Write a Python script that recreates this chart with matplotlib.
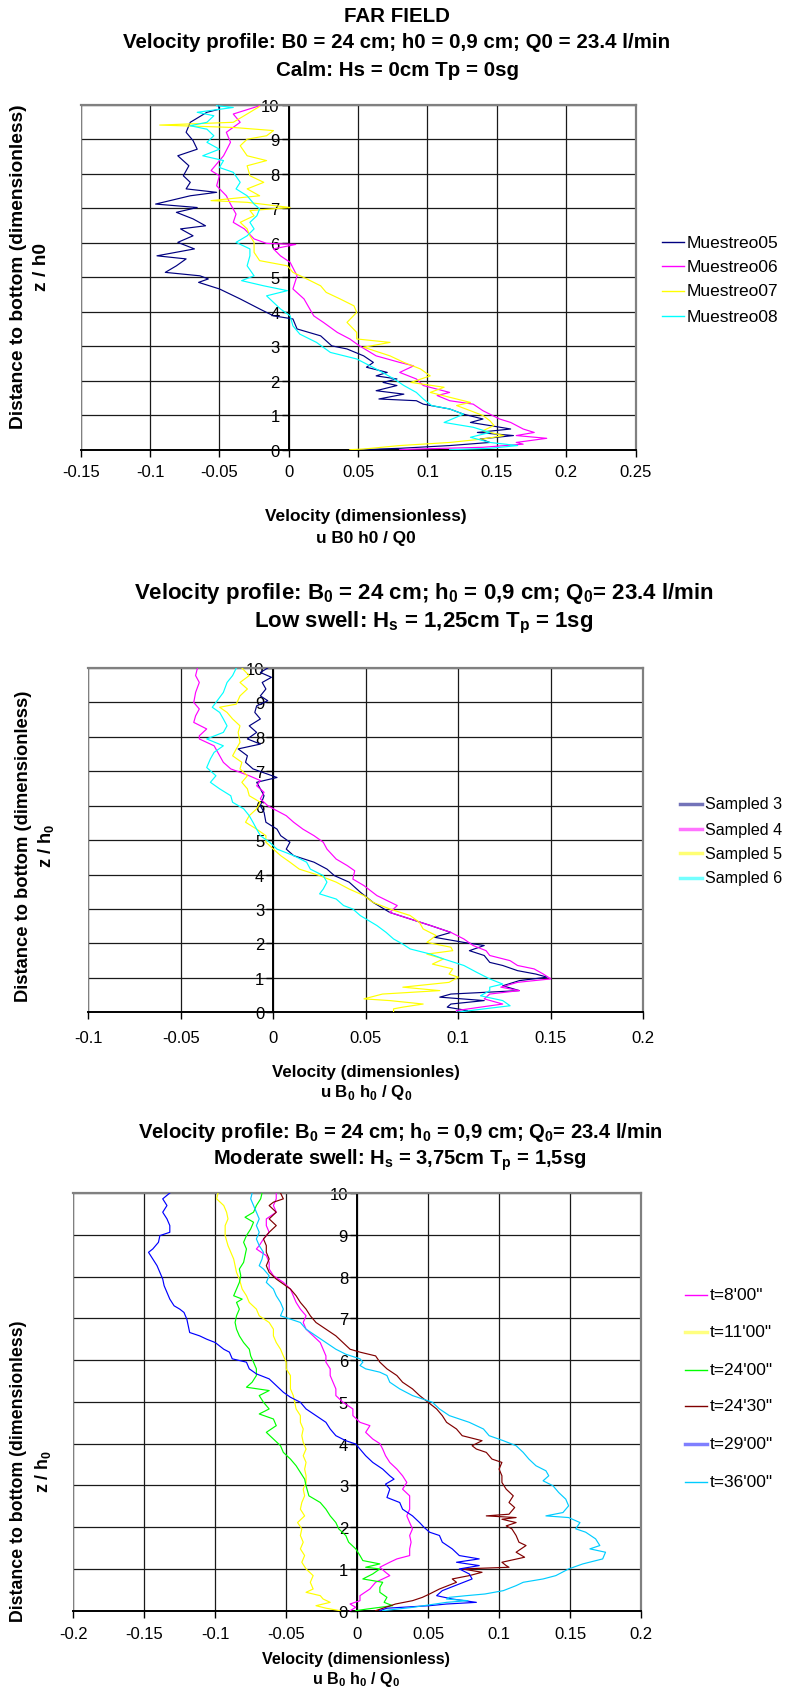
"""Velocity profiles in the far field for three wave conditions (calm, low swell, moderate swell)."""

import matplotlib.pyplot as plt
from matplotlib.lines import Line2D

plt.rcParams['font.family'] = ['Liberation Sans', 'DejaVu Sans']
plt.rcParams['mathtext.fontset'] = 'custom'
plt.rcParams['mathtext.rm'] = 'Liberation Sans'
plt.rcParams['mathtext.bf'] = 'Liberation Sans:bold'

# ---------------------------------------------------------------
# Data: (z / h0, u B0 h0 / Q0) read top to bottom for each run
# ---------------------------------------------------------------
calm_05 = [(10.0, -0.051), (9.87, -0.050), (9.78, -0.059), (9.49, -0.071), (9.20, -0.074),
           (8.96, -0.069), (8.71, -0.066), (8.52, -0.080), (8.23, -0.072), (7.94, -0.076),
           (7.75, -0.071), (7.56, -0.074), (7.46, -0.052), (7.36, -0.071), (7.12, -0.096),
           (7.02, -0.066), (6.88, -0.081), (6.69, -0.069), (6.49, -0.060), (6.40, -0.078),
           (6.20, -0.069), (6.01, -0.080), (5.82, -0.068), (5.62, -0.095), (5.53, -0.074),
           (5.33, -0.081), (5.14, -0.089), (5.04, -0.064), (4.95, -0.058), (4.85, -0.065),
           (4.66, -0.050), (4.37, -0.035), (4.08, -0.021), (3.88, -0.011), (3.79, 0.003),
           (3.50, 0.006), (3.30, 0.023), (3.01, 0.031), (2.92, 0.042), (2.72, 0.054),
           (2.53, 0.061), (2.39, 0.056), (2.24, 0.071), (2.14, 0.063), (2.05, 0.078),
           (1.95, 0.068), (1.86, 0.078), (1.71, 0.063), (1.61, 0.083), (1.47, 0.065),
           (1.42, 0.092), (1.32, 0.097), (1.18, 0.116), (1.03, 0.126), (0.89, 0.140),
           (0.79, 0.131), (0.70, 0.145), (0.60, 0.160), (0.50, 0.136), (0.41, 0.162),
           (0.31, 0.138), (0.21, 0.145), (0.12, 0.116), (0.04, 0.080), (0.00, 0.051)]
calm_06 = [(9.97, -0.021), (9.73, -0.040), (9.49, -0.035), (9.20, -0.045), (8.91, -0.042),
           (8.52, -0.047), (8.09, -0.056), (7.94, -0.050), (7.65, -0.052), (7.36, -0.045),
           (7.12, -0.042), (6.83, -0.038), (6.59, -0.040), (6.40, -0.032), (6.11, -0.025),
           (5.98, -0.016), (5.95, 0.005), (5.82, -0.011), (5.62, -0.006), (5.43, 0.001),
           (5.04, 0.006), (4.66, 0.003), (4.37, 0.011), (3.88, 0.018), (3.69, 0.025),
           (3.40, 0.035), (3.21, 0.044), (3.01, 0.051), (2.72, 0.063), (2.53, 0.080),
           (2.43, 0.090), (2.24, 0.080), (2.05, 0.092), (1.86, 0.097), (1.66, 0.116),
           (1.57, 0.107), (1.42, 0.116), (1.32, 0.133), (1.13, 0.140), (1.03, 0.145),
           (0.89, 0.152), (0.79, 0.160), (0.60, 0.169), (0.50, 0.177), (0.41, 0.164),
           (0.33, 0.186), (0.21, 0.164), (0.16, 0.169), (0.07, 0.140), (0.02, 0.092),
           (0.00, 0.080)]
calm_07 = [(9.95, -0.021), (9.78, -0.028), (9.49, -0.040), (9.41, -0.093), (9.34, -0.040),
           (9.25, -0.011), (9.10, -0.016), (9.00, -0.030), (8.81, -0.035), (8.52, -0.030),
           (8.38, -0.016), (8.23, -0.030), (7.94, -0.028), (7.75, -0.018), (7.56, -0.030),
           (7.36, -0.021), (7.22, -0.056), (7.17, -0.030), (7.02, 0.001), (6.93, -0.028),
           (6.78, -0.025), (6.59, -0.035), (6.40, -0.030), (6.20, -0.028), (6.01, -0.025),
           (5.72, -0.025), (5.48, -0.021), (5.33, -0.001), (5.14, 0.003), (4.95, 0.013),
           (4.75, 0.023), (4.56, 0.027), (4.37, 0.037), (4.17, 0.047), (3.98, 0.049),
           (3.69, 0.042), (3.40, 0.049), (3.21, 0.049), (3.11, 0.073), (2.97, 0.054),
           (2.72, 0.073), (2.53, 0.083), (2.34, 0.095), (2.14, 0.102), (1.95, 0.088),
           (1.81, 0.112), (1.66, 0.102), (1.52, 0.116), (1.37, 0.131), (1.28, 0.121),
           (1.13, 0.131), (0.99, 0.140), (0.84, 0.145), (0.70, 0.148), (0.55, 0.140),
           (0.41, 0.155), (0.31, 0.140), (0.21, 0.116), (0.12, 0.080), (0.02, 0.054),
           (0.00, 0.044)]
calm_08 = [(9.97, -0.052), (9.92, -0.040), (9.78, -0.066), (9.68, -0.054), (9.49, -0.059),
           (9.39, -0.071), (9.29, -0.059), (9.10, -0.054), (8.91, -0.059), (8.71, -0.050),
           (8.52, -0.062), (8.38, -0.047), (8.18, -0.050), (8.04, -0.040), (7.75, -0.035),
           (7.56, -0.038), (7.36, -0.030), (7.12, -0.025), (6.98, -0.021), (6.78, -0.023),
           (6.59, -0.028), (6.40, -0.025), (6.20, -0.030), (6.01, -0.038), (5.82, -0.028),
           (5.62, -0.028), (5.33, -0.030), (5.04, -0.025), (4.90, -0.034), (4.75, -0.018),
           (4.61, -0.001), (4.46, -0.016), (4.27, -0.011), (4.08, -0.006), (3.88, 0.001),
           (3.59, 0.003), (3.35, 0.008), (3.11, 0.020), (2.82, 0.030), (2.63, 0.049),
           (2.34, 0.063), (2.05, 0.076), (1.86, 0.083), (1.66, 0.092), (1.47, 0.097),
           (1.28, 0.103), (1.18, 0.116), (1.03, 0.126), (0.79, 0.112), (0.65, 0.133),
           (0.50, 0.145), (0.36, 0.131), (0.21, 0.145), (0.12, 0.165), (0.04, 0.145),
           (0.00, 0.116)]

low_3 = [(10.0, -0.003), (9.87, -0.007), (9.73, -0.001), (9.58, -0.006), (9.39, -0.004),
         (9.19, -0.007), (9.05, -0.003), (8.90, -0.009), (8.71, -0.010), (8.52, -0.007),
         (8.32, -0.013), (8.13, -0.009), (7.94, -0.014), (7.79, -0.007), (7.65, -0.019),
         (7.45, -0.014), (7.26, -0.015), (7.07, -0.011), (6.82, 0.002), (6.68, -0.009),
         (6.49, -0.007), (6.29, -0.005), (6.00, -0.007), (5.81, -0.005), (5.52, -0.004),
         (5.32, 0.002), (5.13, 0.004), (4.94, 0.009), (4.74, 0.007), (4.55, 0.011),
         (4.36, 0.022), (4.16, 0.029), (3.97, 0.033), (3.78, 0.041), (3.49, 0.047),
         (3.19, 0.054), (2.90, 0.063), (2.71, 0.074), (2.52, 0.085), (2.32, 0.096),
         (2.18, 0.087), (2.03, 0.103), (1.94, 0.114), (1.79, 0.106), (1.65, 0.114),
         (1.45, 0.117), (1.36, 0.124), (1.21, 0.132), (1.11, 0.142), (1.02, 0.148),
         (0.92, 0.133), (0.77, 0.124), (0.63, 0.133), (0.53, 0.096), (0.44, 0.090),
         (0.34, 0.114), (0.24, 0.096), (0.15, 0.094), (0.05, 0.105), (0.00, 0.100)]
low_4 = [(10.0, -0.041), (9.78, -0.042), (9.58, -0.040), (9.29, -0.042), (9.00, -0.043),
         (8.81, -0.040), (8.61, -0.042), (8.42, -0.043), (8.23, -0.036), (8.03, -0.040),
         (7.94, -0.040), (7.74, -0.032), (7.55, -0.030), (7.26, -0.027), (7.07, -0.023),
         (6.87, -0.013), (6.73, -0.007), (6.58, -0.009), (6.39, -0.005), (6.20, -0.007),
         (6.00, -0.003), (5.91, 0.000), (5.71, 0.007), (5.52, 0.011), (5.32, 0.016),
         (5.13, 0.022), (4.94, 0.027), (4.74, 0.029), (4.45, 0.034), (4.26, 0.040),
         (4.11, 0.044), (3.87, 0.043), (3.68, 0.049), (3.39, 0.056), (3.10, 0.067),
         (2.90, 0.063), (2.71, 0.074), (2.52, 0.085), (2.32, 0.096), (2.13, 0.103),
         (1.94, 0.108), (1.79, 0.115), (1.65, 0.117), (1.50, 0.128), (1.36, 0.132),
         (1.26, 0.141), (1.11, 0.146), (0.97, 0.150), (0.87, 0.132), (0.73, 0.123),
         (0.63, 0.133), (0.53, 0.117), (0.39, 0.114), (0.24, 0.124), (0.15, 0.112),
         (0.05, 0.099), (0.00, 0.099)]
low_5 = [(10.0, -0.017), (9.78, -0.013), (9.58, -0.018), (9.39, -0.014), (9.19, -0.018),
         (8.95, -0.020), (8.86, -0.029), (8.71, -0.025), (8.52, -0.022), (8.32, -0.018),
         (8.13, -0.019), (7.84, -0.018), (7.65, -0.020), (7.45, -0.022), (7.26, -0.017),
         (7.07, -0.018), (6.87, -0.014), (6.68, -0.017), (6.49, -0.014), (6.29, -0.013),
         (6.10, -0.007), (5.91, -0.009), (5.71, -0.013), (5.52, -0.015), (5.32, -0.009),
         (5.13, -0.004), (4.94, -0.004), (4.74, 0.000), (4.55, 0.004), (4.36, 0.009),
         (4.16, 0.014), (3.97, 0.025), (3.78, 0.034), (3.58, 0.041), (3.39, 0.049),
         (3.19, 0.054), (3.00, 0.063), (2.81, 0.074), (2.61, 0.079), (2.42, 0.081),
         (2.23, 0.088), (2.03, 0.083), (1.89, 0.096), (1.79, 0.097), (1.69, 0.083),
         (1.55, 0.092), (1.40, 0.086), (1.26, 0.097), (1.11, 0.095), (1.02, 0.100),
         (0.87, 0.095), (0.73, 0.070), (0.63, 0.090), (0.53, 0.059), (0.39, 0.049),
         (0.34, 0.063), (0.24, 0.081), (0.15, 0.070), (0.10, 0.065), (0.00, 0.065)]
low_6 = [(10.0, -0.020), (9.78, -0.022), (9.58, -0.025), (9.29, -0.027), (9.00, -0.031),
         (8.86, -0.033), (8.71, -0.029), (8.52, -0.027), (8.32, -0.025), (8.13, -0.027),
         (7.94, -0.036), (7.74, -0.027), (7.55, -0.032), (7.36, -0.034), (7.11, -0.036),
         (6.87, -0.031), (6.68, -0.034), (6.49, -0.029), (6.29, -0.023), (6.10, -0.022),
         (5.91, -0.016), (5.71, -0.013), (5.52, -0.011), (5.32, -0.009), (5.13, -0.007),
         (4.94, -0.002), (4.74, 0.002), (4.55, 0.011), (4.36, 0.018), (4.16, 0.020),
         (3.97, 0.027), (3.78, 0.029), (3.58, 0.027), (3.44, 0.025), (3.29, 0.034),
         (3.10, 0.038), (3.00, 0.043), (2.81, 0.047), (2.52, 0.056), (2.32, 0.061),
         (2.13, 0.065), (1.98, 0.070), (1.84, 0.074), (1.69, 0.085), (1.55, 0.092),
         (1.36, 0.103), (1.16, 0.110), (0.97, 0.117), (0.82, 0.124), (0.73, 0.117),
         (0.63, 0.117), (0.48, 0.112), (0.34, 0.124), (0.19, 0.128), (0.10, 0.114),
         (0.00, 0.099)]

mod_0800 = [(10.0, -0.057), (9.86, -0.057), (9.70, -0.059), (9.54, -0.057), (9.38, -0.064),
            (9.22, -0.064), (9.06, -0.062), (8.90, -0.066), (8.74, -0.069), (8.66, -0.071),
            (8.50, -0.064), (8.34, -0.062), (8.18, -0.062), (8.02, -0.059), (7.86, -0.052),
            (7.70, -0.047), (7.54, -0.045), (7.38, -0.043), (7.22, -0.040), (7.06, -0.036),
            (6.90, -0.038), (6.74, -0.036), (6.58, -0.031), (6.42, -0.026), (6.26, -0.024),
            (6.10, -0.022), (5.95, -0.022), (5.79, -0.019), (5.63, -0.019), (5.47, -0.017),
            (5.31, -0.015), (5.15, -0.015), (4.99, -0.010), (4.83, -0.003), (4.67, -0.003),
            (4.51, 0.002), (4.43, 0.009), (4.27, 0.006), (4.11, 0.011), (4.00, 0.016),
            (3.87, 0.018), (3.71, 0.020), (3.55, 0.023), (3.39, 0.028), (3.23, 0.032),
            (3.07, 0.035), (2.91, 0.032), (2.75, 0.037), (2.59, 0.037), (2.43, 0.037),
            (2.27, 0.035), (2.11, 0.037), (1.96, 0.039), (1.80, 0.037), (1.64, 0.038),
            (1.48, 0.037), (1.32, 0.037), (1.24, 0.028), (1.16, 0.023), (1.04, 0.016),
            (0.92, 0.020), (0.84, 0.023), (0.68, 0.013), (0.52, 0.009), (0.36, 0.002),
            (0.24, 0.002), (0.16, -0.005), (0.08, -0.001), (0.00, -0.005)]
mod_1100 = [(10.0, -0.098), (9.86, -0.099), (9.70, -0.094), (9.54, -0.092), (9.38, -0.091),
            (9.22, -0.093), (8.98, -0.093), (8.74, -0.091), (8.58, -0.089), (8.42, -0.087),
            (8.26, -0.086), (8.10, -0.085), (7.94, -0.083), (7.70, -0.081), (7.54, -0.078),
            (7.38, -0.076), (7.22, -0.071), (7.06, -0.069), (6.90, -0.062), (6.74, -0.059),
            (6.58, -0.059), (6.42, -0.057), (6.26, -0.054), (6.10, -0.052), (5.95, -0.050),
            (5.79, -0.050), (5.63, -0.047), (5.47, -0.047), (5.31, -0.047), (5.15, -0.045),
            (4.99, -0.044), (4.83, -0.043), (4.67, -0.040), (4.51, -0.040), (4.35, -0.038),
            (4.19, -0.039), (4.03, -0.038), (3.87, -0.036), (3.71, -0.038), (3.55, -0.036),
            (3.39, -0.037), (3.23, -0.036), (3.07, -0.036), (2.91, -0.038), (2.75, -0.037),
            (2.59, -0.039), (2.43, -0.040), (2.27, -0.037), (2.11, -0.042), (1.96, -0.039),
            (1.80, -0.040), (1.64, -0.038), (1.48, -0.040), (1.32, -0.037), (1.16, -0.039),
            (1.00, -0.036), (0.84, -0.031), (0.68, -0.033), (0.52, -0.031), (0.44, -0.036),
            (0.36, -0.026), (0.28, -0.024), (0.20, -0.019), (0.12, -0.029), (0.06, -0.022),
            (0.00, -0.012)]
mod_2400 = [(10.0, -0.067), (9.86, -0.068), (9.70, -0.071), (9.54, -0.073), (9.42, -0.079),
            (9.30, -0.073), (9.14, -0.075), (8.98, -0.078), (8.82, -0.080), (8.66, -0.078),
            (8.50, -0.079), (8.34, -0.080), (8.18, -0.083), (8.02, -0.082), (7.86, -0.083),
            (7.70, -0.085), (7.54, -0.087), (7.46, -0.081), (7.38, -0.085), (7.22, -0.083),
            (7.06, -0.085), (6.90, -0.086), (6.74, -0.085), (6.58, -0.083), (6.42, -0.080),
            (6.26, -0.076), (6.10, -0.075), (5.95, -0.073), (5.79, -0.071), (5.63, -0.071),
            (5.47, -0.074), (5.35, -0.078), (5.27, -0.062), (5.15, -0.069), (4.99, -0.066),
            (4.83, -0.062), (4.71, -0.069), (4.59, -0.059), (4.43, -0.057), (4.27, -0.064),
            (4.11, -0.059), (3.95, -0.054), (3.79, -0.052), (3.63, -0.047), (3.47, -0.043),
            (3.31, -0.040), (3.15, -0.037), (2.99, -0.036), (2.75, -0.034), (2.59, -0.026),
            (2.43, -0.022), (2.27, -0.019), (2.11, -0.015), (1.96, -0.013), (1.80, -0.008),
            (1.64, -0.006), (1.48, -0.001), (1.32, 0.002), (1.20, 0.004), (1.12, 0.016),
            (1.04, 0.006), (1.00, 0.016), (0.88, 0.011), (0.76, 0.004), (0.68, 0.018),
            (0.56, 0.016), (0.44, 0.016), (0.32, 0.021), (0.20, 0.019), (0.12, 0.025),
            (0.04, 0.007), (0.00, -0.001)]
mod_2430 = [(10.0, -0.054), (9.86, -0.052), (9.78, -0.059), (9.70, -0.062), (9.54, -0.057),
            (9.38, -0.062), (9.22, -0.057), (9.06, -0.062), (8.90, -0.066), (8.74, -0.064),
            (8.58, -0.064), (8.42, -0.062), (8.26, -0.064), (8.10, -0.062), (7.94, -0.057),
            (7.82, -0.052), (7.70, -0.047), (7.54, -0.043), (7.38, -0.040), (7.22, -0.036),
            (7.06, -0.033), (6.90, -0.029), (6.74, -0.022), (6.58, -0.015), (6.42, -0.010),
            (6.26, -0.005), (6.19, 0.002), (6.10, 0.013), (5.95, 0.016), (5.79, 0.021),
            (5.63, 0.028), (5.47, 0.032), (5.31, 0.039), (5.15, 0.044), (4.99, 0.050),
            (4.83, 0.056), (4.67, 0.060), (4.51, 0.063), (4.35, 0.070), (4.19, 0.074),
            (4.07, 0.088), (3.95, 0.081), (3.87, 0.084), (3.79, 0.091), (3.63, 0.095),
            (3.55, 0.102), (3.39, 0.100), (3.23, 0.102), (3.07, 0.102), (2.91, 0.105),
            (2.75, 0.110), (2.59, 0.107), (2.47, 0.111), (2.31, 0.107), (2.27, 0.091),
            (2.23, 0.112), (2.19, 0.102), (2.11, 0.112), (2.03, 0.105), (1.96, 0.109),
            (1.80, 0.112), (1.64, 0.114), (1.56, 0.119), (1.40, 0.112), (1.28, 0.118),
            (1.16, 0.102), (1.08, 0.105), (1.04, 0.107), (1.00, 0.074), (0.92, 0.088),
            (0.84, 0.079), (0.76, 0.067), (0.68, 0.070), (0.52, 0.058), (0.40, 0.051),
            (0.32, 0.046), (0.24, 0.039), (0.16, 0.027), (0.08, 0.020), (0.00, 0.013)]
mod_2900 = [(10.0, -0.132), (9.86, -0.137), (9.70, -0.134), (9.54, -0.137), (9.38, -0.134),
            (9.22, -0.132), (9.06, -0.132), (8.98, -0.139), (8.82, -0.140), (8.66, -0.144),
            (8.58, -0.147), (8.42, -0.144), (8.26, -0.141), (8.10, -0.139), (7.94, -0.137),
            (7.78, -0.136), (7.62, -0.134), (7.46, -0.132), (7.30, -0.129), (7.22, -0.125),
            (7.14, -0.122), (6.98, -0.120), (6.82, -0.119), (6.66, -0.118), (6.58, -0.111),
            (6.50, -0.106), (6.42, -0.100), (6.26, -0.094), (6.19, -0.090), (6.03, -0.088),
            (5.95, -0.078), (5.79, -0.076), (5.67, -0.071), (5.55, -0.062), (5.39, -0.057),
            (5.23, -0.052), (5.11, -0.047), (4.99, -0.040), (4.83, -0.036), (4.67, -0.029),
            (4.51, -0.022), (4.35, -0.019), (4.19, -0.015), (4.07, -0.008), (3.99, -0.001),
            (3.87, 0.002), (3.71, 0.006), (3.55, 0.011), (3.39, 0.018), (3.23, 0.023),
            (3.15, 0.026), (3.03, 0.020), (2.91, 0.023), (2.71, 0.021), (2.59, 0.030),
            (2.43, 0.032), (2.27, 0.039), (2.11, 0.044), (2.00, 0.047), (1.88, 0.051),
            (1.80, 0.058), (1.64, 0.060), (1.48, 0.067), (1.32, 0.072), (1.24, 0.086),
            (1.16, 0.070), (1.08, 0.086), (1.00, 0.072), (0.88, 0.079), (0.76, 0.081),
            (0.60, 0.069), (0.48, 0.060), (0.36, 0.056), (0.28, 0.067), (0.20, 0.084),
            (0.16, 0.063), (0.12, 0.051), (0.06, 0.021), (0.00, 0.016)]
mod_3600 = [(10.0, -0.074), (9.86, -0.075), (9.70, -0.073), (9.54, -0.071), (9.38, -0.069),
            (9.22, -0.071), (9.06, -0.069), (8.90, -0.071), (8.74, -0.069), (8.58, -0.066),
            (8.42, -0.067), (8.26, -0.069), (8.18, -0.066), (8.02, -0.062), (7.86, -0.064),
            (7.70, -0.059), (7.54, -0.057), (7.38, -0.054), (7.22, -0.052), (7.06, -0.054),
            (6.90, -0.040), (6.74, -0.036), (6.58, -0.029), (6.42, -0.022), (6.26, -0.015),
            (6.14, -0.008), (6.03, 0.002), (5.95, 0.004), (5.87, 0.002), (5.79, 0.006),
            (5.71, 0.016), (5.63, 0.021), (5.47, 0.023), (5.31, 0.030), (5.15, 0.039),
            (4.99, 0.053), (4.83, 0.058), (4.67, 0.065), (4.51, 0.079), (4.35, 0.089),
            (4.19, 0.093), (4.07, 0.103), (3.95, 0.112), (3.79, 0.117), (3.63, 0.121),
            (3.47, 0.126), (3.35, 0.133), (3.23, 0.135), (3.11, 0.131), (2.99, 0.138),
            (2.83, 0.142), (2.67, 0.147), (2.51, 0.149), (2.35, 0.145), (2.27, 0.133),
            (2.23, 0.149), (2.11, 0.157), (1.96, 0.154), (1.88, 0.161), (1.72, 0.168),
            (1.56, 0.171), (1.48, 0.164), (1.40, 0.175), (1.24, 0.173), (1.12, 0.159),
            (1.00, 0.149), (0.84, 0.140), (0.76, 0.131), (0.68, 0.117), (0.60, 0.112),
            (0.48, 0.103), (0.40, 0.090), (0.36, 0.077), (0.32, 0.065), (0.28, 0.063),
            (0.24, 0.078), (0.20, 0.063), (0.08, 0.039), (0.00, 0.018)]

calm_ticks = [-0.15, -0.1, -0.05, 0, 0.05, 0.1, 0.15, 0.2, 0.25]
low_ticks = [-0.1, -0.05, 0, 0.05, 0.1, 0.15, 0.2]
mod_ticks = [-0.2, -0.15, -0.1, -0.05, 0, 0.05, 0.1, 0.15, 0.2]

calm_names = ['Muestreo05', 'Muestreo06', 'Muestreo07', 'Muestreo08']
low_names = ['Sampled 3', 'Sampled 4', 'Sampled 5', 'Sampled 6']
mod_names = ["t=8'00\"", "t=11'00\"", "t=24'00\"", "t=24'30\"", "t=29'00\"", "t=36'00\""]

calm_colors = ['#000080', '#FF00FF', '#FFFF00', '#00FFFF']
low_colors = ['#000080', '#FF00FF', '#FFFF00', '#00FFFF']
mod_colors = ['#FF00FF', '#FFFF00', '#00FF00', '#800000', '#0000FF', '#00CCFF']

# ---------------------------------------------------------------
# Figure, laid out in pixels
# ---------------------------------------------------------------
W, H = 787, 1690
fig = plt.figure(figsize=(W / 100, H / 100), dpi=100)


def px_box(left, top, right, bottom):
    return [left / W, 1 - bottom / H, (right - left) / W, (bottom - top) / H]


def fx(x):
    return x / W


def fy(y):
    return 1 - y / H


def profile_axes(box, ticks, xpad):
    ax = fig.add_axes(px_box(*box))
    ax.set_xlim(ticks[0], ticks[-1])
    ax.set_ylim(0, 10)
    ax.set_xticks(ticks)
    ax.set_xticklabels([f'{t:g}' for t in ticks])
    ax.set_yticks(range(0, 11))
    ax.grid(True, color='#1a1a1a', lw=0.9)
    ax.set_axisbelow(True)
    for side in ['top', 'right']:
        ax.spines[side].set_color('#808080')
        ax.spines[side].set_linewidth(1.6)
    ax.spines['bottom'].set_color('black')
    ax.spines['bottom'].set_linewidth(1.4)
    ax.spines['left'].set_position(('data', 0))
    ax.spines['left'].set_color('black')
    ax.spines['left'].set_linewidth(1.4)
    ax.spines['left'].set_zorder(1.5)
    ax.axvline(ticks[0], color='#808080', lw=1.6, zorder=1.2)
    ax.tick_params(axis='both', direction='out', length=5, width=1, labelsize=12,
                   colors='black')
    ax.tick_params(axis='x', pad=xpad)
    ax.tick_params(axis='y', pad=1.5)
    return ax


def draw_profiles(ax, runs, colors):
    for run, color in zip(runs, colors):
        z = [p[0] for p in run]
        u = [p[1] for p in run]
        ax.plot(u, z, color=color, lw=0.85, zorder=3)


def key(x0, rows, names, colors, widths, alphas, size=12.5):
    for y, name, color, lw, a in zip(rows, names, colors, widths, alphas):
        fig.add_artist(Line2D([fx(x0), fx(x0 + 22)], [fy(y), fy(y)], color=color, lw=lw,
                              alpha=a))
        fig.text(fx(x0 + 25), fy(y), name, fontsize=size, va='center', ha='left')


def label_block(lines, x, ys, size, rotation=0):
    for text, y in zip(lines, ys):
        if rotation:
            fig.text(fx(y), fy(x), text, fontsize=size, fontweight='bold',
                     rotation=90, ha='center', va='center')
        else:
            fig.text(fx(x), fy(y), text, fontsize=size, fontweight='bold',
                     ha='center', va='center')


# ---- Calm ----
label_block(['FAR FIELD',
             'Velocity profile: B0 = 24 cm; h0 = 0,9 cm; Q0 = 23.4 l/min',
             'Calm: Hs = 0cm Tp = 0sg'], 397, [17, 43, 71], 14.8)
ax1 = profile_axes((80.7, 105.7, 635.5, 450.7), calm_ticks, 5)
draw_profiles(ax1, [calm_05, calm_06, calm_07, calm_08], calm_colors)
key(662, [243, 267, 292, 317], calm_names, calm_colors, [1] * 4, [1] * 4)
label_block(['Velocity (dimensionless)', 'u B0 h0 / Q0'], 366, [517, 539], 12.4)
label_block(['Distance to bottom (dimensionless)', 'z / h0'], 267, [19, 41], 13.8, rotation=90)

# ---- Low swell ----
label_block([r'Velocity profile: B$_{\mathbf{0}}$ = 24 cm; h$_{\mathbf{0}}$ = 0,9 cm; '
             r'Q$_{\mathbf{0}}$= 23.4 l/min',
             r'Low swell: H$_{\mathbf{s}}$ = 1,25cm T$_{\mathbf{p}}$ = 1sg'],
            424, [594, 623], 16)
ax2 = profile_axes((88.3, 669, 643.3, 1013.3), low_ticks, 8)
draw_profiles(ax2, [low_3, low_4, low_5, low_6], low_colors)
key(680, [805, 830, 854, 879], low_names, low_colors, [2.5] * 4, [0.55] * 4, size=11.6)
label_block(['Velocity (dimensionles)', r'u B$_{\mathbf{0}}$ h$_{\mathbf{0}}$ / Q$_{\mathbf{0}}$'],
            366, [1073, 1093], 12.2)
label_block(['Distance to bottom (dimensionless)', r'z / h$_{\mathbf{0}}$'], 846, [24, 46], 13.2,
            rotation=90)

# ---- Moderate swell ----
label_block([r'Velocity profile: B$_{\mathbf{0}}$ = 24 cm; h$_{\mathbf{0}}$ = 0,9 cm; '
             r'Q$_{\mathbf{0}}$= 23.4 l/min',
             r'Moderate swell: H$_{\mathbf{s}}$ = 3,75cm T$_{\mathbf{p}}$ = 1,5sg'],
            400, [1133, 1160], 14.5)
ax3 = profile_axes((73.3, 1194, 641, 1611.7), mod_ticks, 6)
draw_profiles(ax3, [mod_0800, mod_1100, mod_2400, mod_2430, mod_2900, mod_3600], mod_colors)
key(685, [1296, 1333, 1371, 1407, 1445, 1483], mod_names, mod_colors,
    [1, 2.5, 1, 1, 2.5, 1], [1, 0.5, 1, 1, 0.5, 1])
label_block(['Velocity (dimensionless)', r'u B$_{\mathbf{0}}$ h$_{\mathbf{0}}$ / Q$_{\mathbf{0}}$'],
            356, [1660, 1680], 11.6)
label_block(['Distance to bottom (dimensionless)', r'z / h$_{\mathbf{0}}$'], 1471, [19, 43], 12.8,
            rotation=90)

fig.savefig('out.png', dpi=100)
